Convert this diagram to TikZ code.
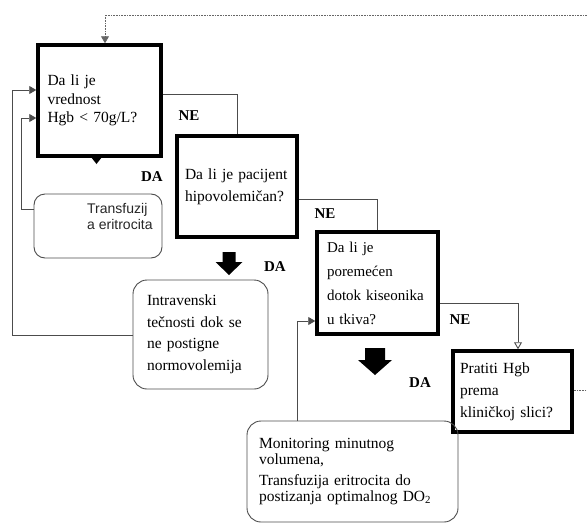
\documentclass[tikz,border=0pt]{standalone}
\usepackage{fontspec}
\setmainfont{Liberation Serif}
\newfontfamily\arialfont{Liberation Sans}
\usetikzlibrary{arrows.meta}
\begin{document}
\begin{tikzpicture}[x=1pt,y=-1pt,
  qbox/.style={draw=black, line width=3.5pt, rectangle, align=left},
  abox/.style={draw=black!70, line width=0.9pt, rounded corners=14pt, align=left},
  conn/.style={draw=black!70, line width=0.9pt},
  arr/.style={conn, -{Triangle[length=7pt,width=8pt]}},
  openarr/.style={conn, -{Triangle[open,length=7pt,width=8pt]}},
  dotline/.style={draw=black!60, line width=0.8pt, dash pattern=on 0.8pt off 0.8pt},
  lbl/.style={font=\bfseries\fontsize{15}{18}\selectfont, inner sep=0pt},
  blockarr/.style={fill=black}]
\useasboundingbox (0,0) rectangle (587,525);

% decision boxes
\node[qbox, text width=104pt, inner xsep=9.5pt, minimum height=111pt,
  font=\fontsize{15.5}{18.5}\selectfont] (q1) at (99.5,100.5)
  {Da li je\\vrednost\\Hgb < 70g/L?};
\node[qbox, text width=104pt, inner xsep=8pt, minimum height=101pt,
  font=\fontsize{15.5}{22}\selectfont] (q2) at (237,186.5)
  {Da li je pacijent\\hipovolemičan?};
\node[qbox, text width=107pt, inner xsep=7pt, minimum height=102pt,
  font=\fontsize{15}{24}\selectfont] (q3) at (377.5,283)
  {\hspace*{3pt}Da li je\\\hspace*{3pt}poremećen\\\hspace*{3pt}dotok kiseonika\\\hspace*{3pt}u tkiva?};
\node[qbox, text width=105pt, inner xsep=7pt, minimum height=81pt,
  font=\fontsize{15.5}{22}\selectfont] (q4) at (512.5,391.5)
  {Pratiti Hgb\\prema\\kliničkoj slici?};

% action boxes
\node[abox, minimum width=128pt, minimum height=64pt, rounded corners=11pt, inner sep=0pt] (tbox) at (98,226) {};
\node[anchor=north west, inner sep=0pt, align=left, text=black!85,
  font=\arialfont\fontsize{14}{16.5}\selectfont] (ttext) at (87,203)
  {Transfuzij\\a eritrocita};
\node[abox, text width=107pt, inner xsep=14pt, minimum height=109pt,
  font=\fontsize{15.5}{21.5}\selectfont] (ibox) at (200.5,334.5)
  {Intravenski\\tečnosti dok se\\ne postigne\\normovolemija};
\node[abox, text width=187pt, inner xsep=12pt, minimum height=101pt,
  font=\fontsize{15.5}{15.5}\selectfont] (mbox) at (352.5,471.5)
  {Monitoring minutnog\\volumena,\\[6pt]Transfuzija eritrocita do\\postizanja optimalnog DO\textsubscript{2}};

% helper coordinates
\coordinate (nx1) at (518,0);
\coordinate (lx1) at (12,0);
\coordinate (lx2) at (21,0);
\coordinate (mx) at (297,0);
\coordinate (dx) at (105,0);
\coordinate (redge1) at (587,15);
\coordinate (redge2) at (587,390);

% NE connectors
\draw[conn] (q1.east |- 0,94) -| (q2.north);
\draw[conn] (q2.east |- 0,199) -| (q3.north);
\draw[openarr] (q3.east |- 0,303) -| (nx1 |- q4.north);

% loops back
\draw[arr] (ibox.west |- 0,335) -| (lx1 |- 0,90) -- (q1.west |- 0,90);
\draw[arr] (tbox.west |- 0,209) -| (lx2 |- 0,118) -- (q1.west |- 0,118);
\draw[arr] (mbox.north -| mx) |- (q3.west |- 0,321);

% dotted return
\draw[dotline] (redge1) -- (dx |- redge1);
\draw[dotline, -{Triangle[length=7pt,width=8pt]}] (dx |- redge1) -- (dx |- q1.north);
\draw[dotline] (q4.east |- redge2) -- (redge2);

% DA arrows
\fill[blockarr] (91,157) -- (102,157) -- (96.5,164) -- cycle;
\fill[blockarr] (222.5,252) -- (235.5,252) -- (235.5,262) -- (242.5,262) -- (229,275) -- (215.5,262) -- (222.5,262) -- cycle;
\fill[blockarr] (365,348) -- (385,348) -- (385,360) -- (392,360) -- (375,375) -- (358,360) -- (365,360) -- cycle;

% labels
\node[lbl] (ne1) at (189,116) {NE};
\node[lbl] (ne2) at (325,214) {NE};
\node[lbl] (ne3) at (460,320) {NE};
\node[lbl] (da1) at (152,177) {DA};
\node[lbl] (da2) at (275,267) {DA};
\node[lbl] (da3) at (420,383) {DA};
\end{tikzpicture}
\end{document}
